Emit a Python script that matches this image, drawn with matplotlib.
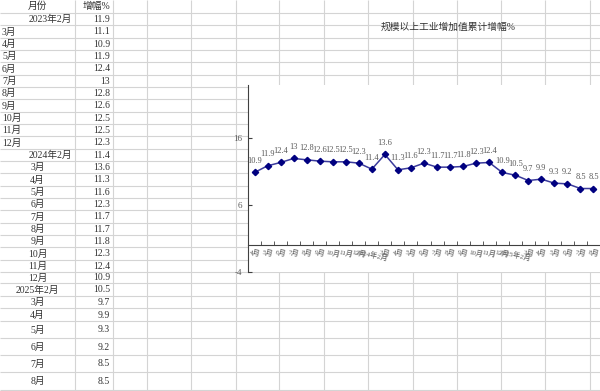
import matplotlib
matplotlib.use("Agg")
import matplotlib.pyplot as plt
from matplotlib.ticker import FixedLocator

plt.rcParams['font.family'] = ['Liberation Serif', 'Noto Sans CJK SC', 'DejaVu Sans']

# ---------------- data ----------------
table_header = ["月份", "增幅%"]
table_months = ["2023年2月", "3月", "4月", "5月", "6月", "7月", "8月", "9月", "10月", "11月", "12月",
                "2024年2月", "3月", "4月", "5月", "6月", "7月", "8月", "9月", "10月", "11月", "12月",
                "2025年2月", "3月", "4月", "5月", "6月", "7月", "8月"]
table_values = ["11.9", "11.1", "10.9", "11.9", "12.4", "13", "12.8", "12.6", "12.5", "12.5", "12.3",
                "11.4", "13.6", "11.3", "11.6", "12.3", "11.7", "11.7", "11.8", "12.3", "12.4", "10.9",
                "10.5", "9.7", "9.9", "9.3", "9.2", "8.5", "8.5"]

chart_title = "规模以上工业增加值累计增幅%"
chart_categories = ["4月", "5月", "6月", "7月", "8月", "9月", "10月", "11月", "12月",
                    "2024年2月", "3月", "4月", "5月", "6月", "7月", "8月", "9月", "10月", "11月", "12月",
                    "2025年2月", "3月", "4月", "5月", "6月", "7月", "8月"]
chart_values = [10.9, 11.9, 12.4, 13, 12.8, 12.6, 12.5, 12.5, 12.3,
                11.4, 13.6, 11.3, 11.6, 12.3, 11.7, 11.7, 11.8, 12.3, 12.4, 10.9,
                10.5, 9.7, 9.9, 9.3, 9.2, 8.5, 8.5]
y_ticks = [-4, 6, 16]

# ---------------- layout (pixel geometry of the sheet) ----------------
W, H = 600, 391
fig = plt.figure(figsize=(W / 100, H / 100), dpi=100)
bg = fig.add_axes([0, 0, 1, 1])
bg.set_xlim(0, W)
bg.set_ylim(H, 0)
bg.axis("off")

grid_c = "#d4d4d4"
col_lines = [75, 113, 147, 191, 236, 279, 324, 368, 413, 457, 501, 545, 590]
row_lines = [13 + 12.33 * k for k in range(22)] + [283, 296, 308, 321, 338, 355, 372, 390]
for x in col_lines:
    bg.vlines(x, 0, H, color=grid_c, lw=0.8)
for y in row_lines:
    bg.hlines(y, 0, W, color=grid_c, lw=0.8)

fs = 7
txt_c = "#333333"
# header
bg.text(37.5, 6.5, table_header[0], ha="center", va="center", fontsize=fs, color=txt_c)
bg.text(110, 6.5, table_header[1], ha="right", va="center", fontsize=fs, color=txt_c)

row_bounds = [0, 13] + row_lines[1:]
for i, (m, v) in enumerate(zip(table_months, table_values)):
    top = row_bounds[i + 1]
    bot = row_bounds[i + 2]
    yc = (top + bot) / 2 + 0.5
    if i == 0:
        bg.text(72, yc, m, ha="right", va="center", fontsize=fs, color=txt_c)
    elif i <= 10:
        bg.text(2, yc, m, ha="left", va="center", fontsize=fs, color=txt_c)
    elif i == 11:
        bg.text(72, yc, m, ha="right", va="center", fontsize=fs, color=txt_c)
    else:
        bg.text(37.5, yc, m, ha="center", va="center", fontsize=fs, color=txt_c)
    bg.text(110, yc, v, ha="right", va="center", fontsize=fs, color=txt_c)

# title
bg.text(448, 27, chart_title, ha="center", va="center", fontsize=7, color="#333333")

# ---------------- chart ----------------
x0, x1, y0, y1 = 248, 600, 85, 272
ax = fig.add_axes([x0 / W, (H - y1) / H, (x1 - x0) / W, (y1 - y0) / H])
ax.set_facecolor("white")
ax.set_ylim(-4, 24)
ax.set_xlim(-0.5, len(chart_values) - 0.5)

xs = list(range(len(chart_values)))
ax.plot(xs, chart_values, color="#3b3b9c", lw=1.1, marker="D", markersize=3.2,
        markerfacecolor="#000080", markeredgecolor="#000080", zorder=3)
for x, v in zip(xs, chart_values):
    ax.text(x, v + 1.1, f"{v:g}", ha="center", va="bottom", fontsize=6, color="#595959")

for s in ["top", "right"]:
    ax.spines[s].set_visible(False)
ax.spines["left"].set_color("#404040")
ax.spines["left"].set_linewidth(0.8)
ax.spines["bottom"].set_position(("data", 0))
ax.spines["bottom"].set_color("#404040")
ax.spines["bottom"].set_linewidth(0.8)

ax.set_yticks(y_ticks)
ax.set_yticklabels([str(t) for t in y_ticks])
ax.tick_params(axis="y", direction="in", length=3, labelsize=6.5, labelcolor="#595959",
               color="#404040", pad=4)

ax.set_xticks(xs)
ax.set_xticklabels(chart_categories, rotation=-12, ha="center")
ax.xaxis.set_minor_locator(FixedLocator([k + 0.5 for k in range(len(chart_values) - 1)]))
ax.tick_params(axis="x", which="major", length=0, labelsize=5.2, labelcolor="#595959", pad=2)
ax.tick_params(axis="x", which="minor", direction="in", length=3, color="#404040")

fig.savefig("out.png", dpi=100)
